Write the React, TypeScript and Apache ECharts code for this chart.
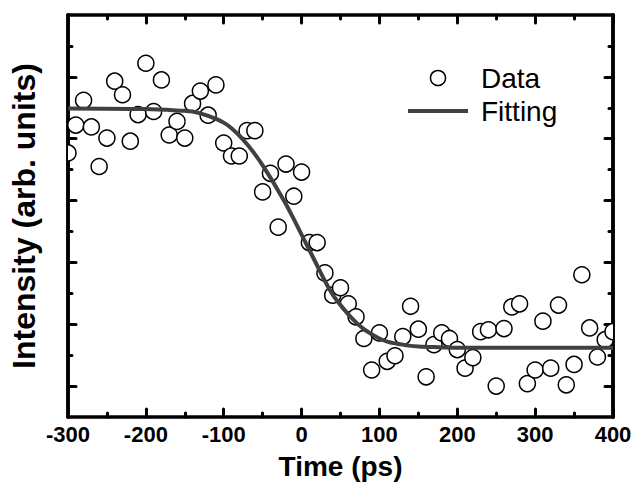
import React, { useEffect, useRef } from "react";
import * as echarts from "echarts";

const times = [
  -300, -290, -280, -270, -260, -250, -240, -230, -220, -210,
  -200, -190, -180, -170, -160, -150, -140, -130, -120, -110,
  -100, -90, -80, -70, -60, -50, -40, -30, -20, -10,
  0, 10, 20, 30, 40, 50, 60, 70, 80, 90,
  100, 110, 120, 130, 140, 150, 160, 170, 180, 190,
  200, 210, 220, 230, 240, 250, 260, 270, 280, 290,
  300, 310, 320, 330, 340, 350, 360, 370, 380, 390, 400,
];

const intensity = [
  4.77, 5.22, 5.62, 5.19, 4.55, 5.01, 5.93, 5.71, 4.96, 5.39,
  6.22, 5.44, 5.95, 5.06, 5.28, 5.01, 5.57, 5.77, 5.38, 5.87,
  4.93, 4.72, 4.72, 5.13, 5.13, 4.14, 4.44, 3.57, 4.59, 4.07,
  4.46, 3.32, 3.32, 2.83, 2.47, 2.59, 2.33, 2.12, 1.77, 1.26,
  1.86, 1.4, 1.49, 1.8, 2.29, 1.92, 1.15, 1.67, 1.86, 1.77,
  1.59, 1.29, 1.46, 1.88, 1.91, 1.0, 1.93, 2.28, 2.33, 1.04,
  1.26, 2.05, 1.29, 2.31, 1.02, 1.35, 2.8, 1.94, 1.47, 1.75, 1.88,
];

const fitTimes = [
  -300, -200, -150, -140, -130, -120, -110, -100, -90, -80, -70, -60, -50, -40,
  -30, -20, -10, 0, 10, 20, 30, 40, 50, 60, 70, 80, 90, 100, 110, 120, 130,
  140, 150, 170, 200, 400,
];
const fitValues = [
  5.49, 5.48, 5.45, 5.44, 5.41, 5.37, 5.32, 5.26, 5.17, 5.05, 4.91, 4.75, 4.57, 4.37,
  4.16, 3.94, 3.7, 3.45, 3.2, 2.95, 2.7, 2.48, 2.31, 2.16, 2.03, 1.92, 1.84, 1.77, 1.72, 1.69, 1.67,
  1.65, 1.64, 1.63, 1.62, 1.62,
];

const yMajorTicks = [1, 2, 3, 4, 5, 6];
const yMinorTicks = [1.5, 2.5, 3.5, 4.5, 5.5, 6.5];

const legendNames = ["Data", "Fitting"];

export default function App() {
  const ref = useRef<HTMLDivElement>(null);

  useEffect(() => {
    document.body.style.margin = "0";
    if (!ref.current) return;
    const chart = echarts.init(ref.current, null, { renderer: "svg" });
    const font = "'Liberation Sans', Arial, Helvetica, sans-serif";
    const axisLine = { show: true, onZero: false, lineStyle: { color: "#000", width: 3.5 } };
    const majorTick = { show: true, inside: true, length: 8, lineStyle: { color: "#000", width: 3, cap: "round" } };
    const minorTickX = { show: true, splitNumber: 2, length: 4, lineStyle: { color: "#000", width: 3, cap: "round" } };
    const minorTickY = { show: true, inside: true, length: 4, lineStyle: { color: "#000", width: 3, cap: "round" } };
    const noSplit = { show: false };

    const yBase = (position: string, tick: any, extra: any = {}) => ({
      type: "value",
      min: 0.5,
      max: 7,
      position,
      axisLine,
      axisTick: tick,
      axisLabel: { show: false },
      splitLine: noSplit,
      ...extra,
    });

    chart.setOption({
      animation: false,
      backgroundColor: "#fff",
      grid: { left: 68, right: 22, top: 15, bottom: 80, containLabel: false },
      legend: {
        data: [
          {
            name: legendNames[0],
            icon: "circle",
            itemStyle: { color: "#fff", borderColor: "#000", borderWidth: 1.5 },
          },
          { name: legendNames[1], icon: "path://M0,0 L60,0 L60,4 L0,4 Z", itemStyle: { color: "#404040" } },
        ],
        orient: "vertical",
        left: 408,
        top: 63,
        padding: 0,
        itemWidth: 60,
        itemHeight: 15,
        itemGap: 3,
        textStyle: { fontFamily: font, fontSize: 28, color: "#000", padding: [0, 0, 0, 8], lineHeight: 30 },
      },
      xAxis: [
        {
          type: "value",
          min: -300,
          max: 400,
          interval: 100,
          position: "bottom",
          axisLine,
          axisTick: majorTick,
          minorTick: minorTickX,
          splitLine: noSplit,
          minorSplitLine: noSplit,
          axisLabel: {
            fontFamily: font,
            fontWeight: "bold",
            fontSize: 22,
            color: "#000",
            margin: 6,
            showMinLabel: true,
            showMaxLabel: true,
          },
          name: "Time (ps)",
          nameLocation: "middle",
          nameGap: 35,
          nameTextStyle: { fontFamily: font, fontWeight: "bold", fontSize: 28, color: "#000" },
        },
        {
          type: "value",
          min: -300,
          max: 400,
          interval: 100,
          position: "top",
          axisLine,
          axisTick: majorTick,
          minorTick: minorTickX,
          splitLine: noSplit,
          minorSplitLine: noSplit,
          axisLabel: { show: false },
        },
      ],
      yAxis: [
        yBase("left", { ...majorTick, customValues: yMajorTicks }, {
          name: "Intensity (arb. units)",
          nameLocation: "middle",
          nameGap: 28,
          nameTextStyle: { fontFamily: font, fontWeight: "bold", fontSize: 32, color: "#000" },
        }),
        yBase("left", { ...minorTickY, customValues: yMinorTicks }),
        yBase("right", { ...majorTick, customValues: yMajorTicks }),
        yBase("right", { ...minorTickY, customValues: yMinorTicks }),
      ],
      series: [
        {
          name: "Data",
          type: "custom",
          xAxisIndex: 0,
          yAxisIndex: 0,
          clip: true,
          data: times.map((t, i) => [t, intensity[i]]),
          encode: { x: 0, y: 1 },
          renderItem: (params: any, api: any) => {
            const p = api.coord([api.value(0), api.value(1)]);
            return {
              type: "circle",
              shape: { cx: p[0], cy: p[1], r: 8 },
              style: { fill: "#fff", stroke: "#000", lineWidth: 1.5 },
            };
          },
          itemStyle: { color: "#fff", borderColor: "#000", borderWidth: 1.5 },
          z: 2,
        },
        {
          name: "Fitting",
          type: "line",
          xAxisIndex: 0,
          yAxisIndex: 0,
          data: fitTimes.map((t, i) => [t, fitValues[i]]),
          smooth: 0.3,
          symbol: "none",
          showSymbol: false,
          lineStyle: { color: "#404040", width: 4 },
          itemStyle: { color: "#404040" },
          z: 3,
        },
      ],
    });
    return () => chart.dispose();
  }, []);

  return <div ref={ref} style={{ width: 635, height: 497 }} />;
}
